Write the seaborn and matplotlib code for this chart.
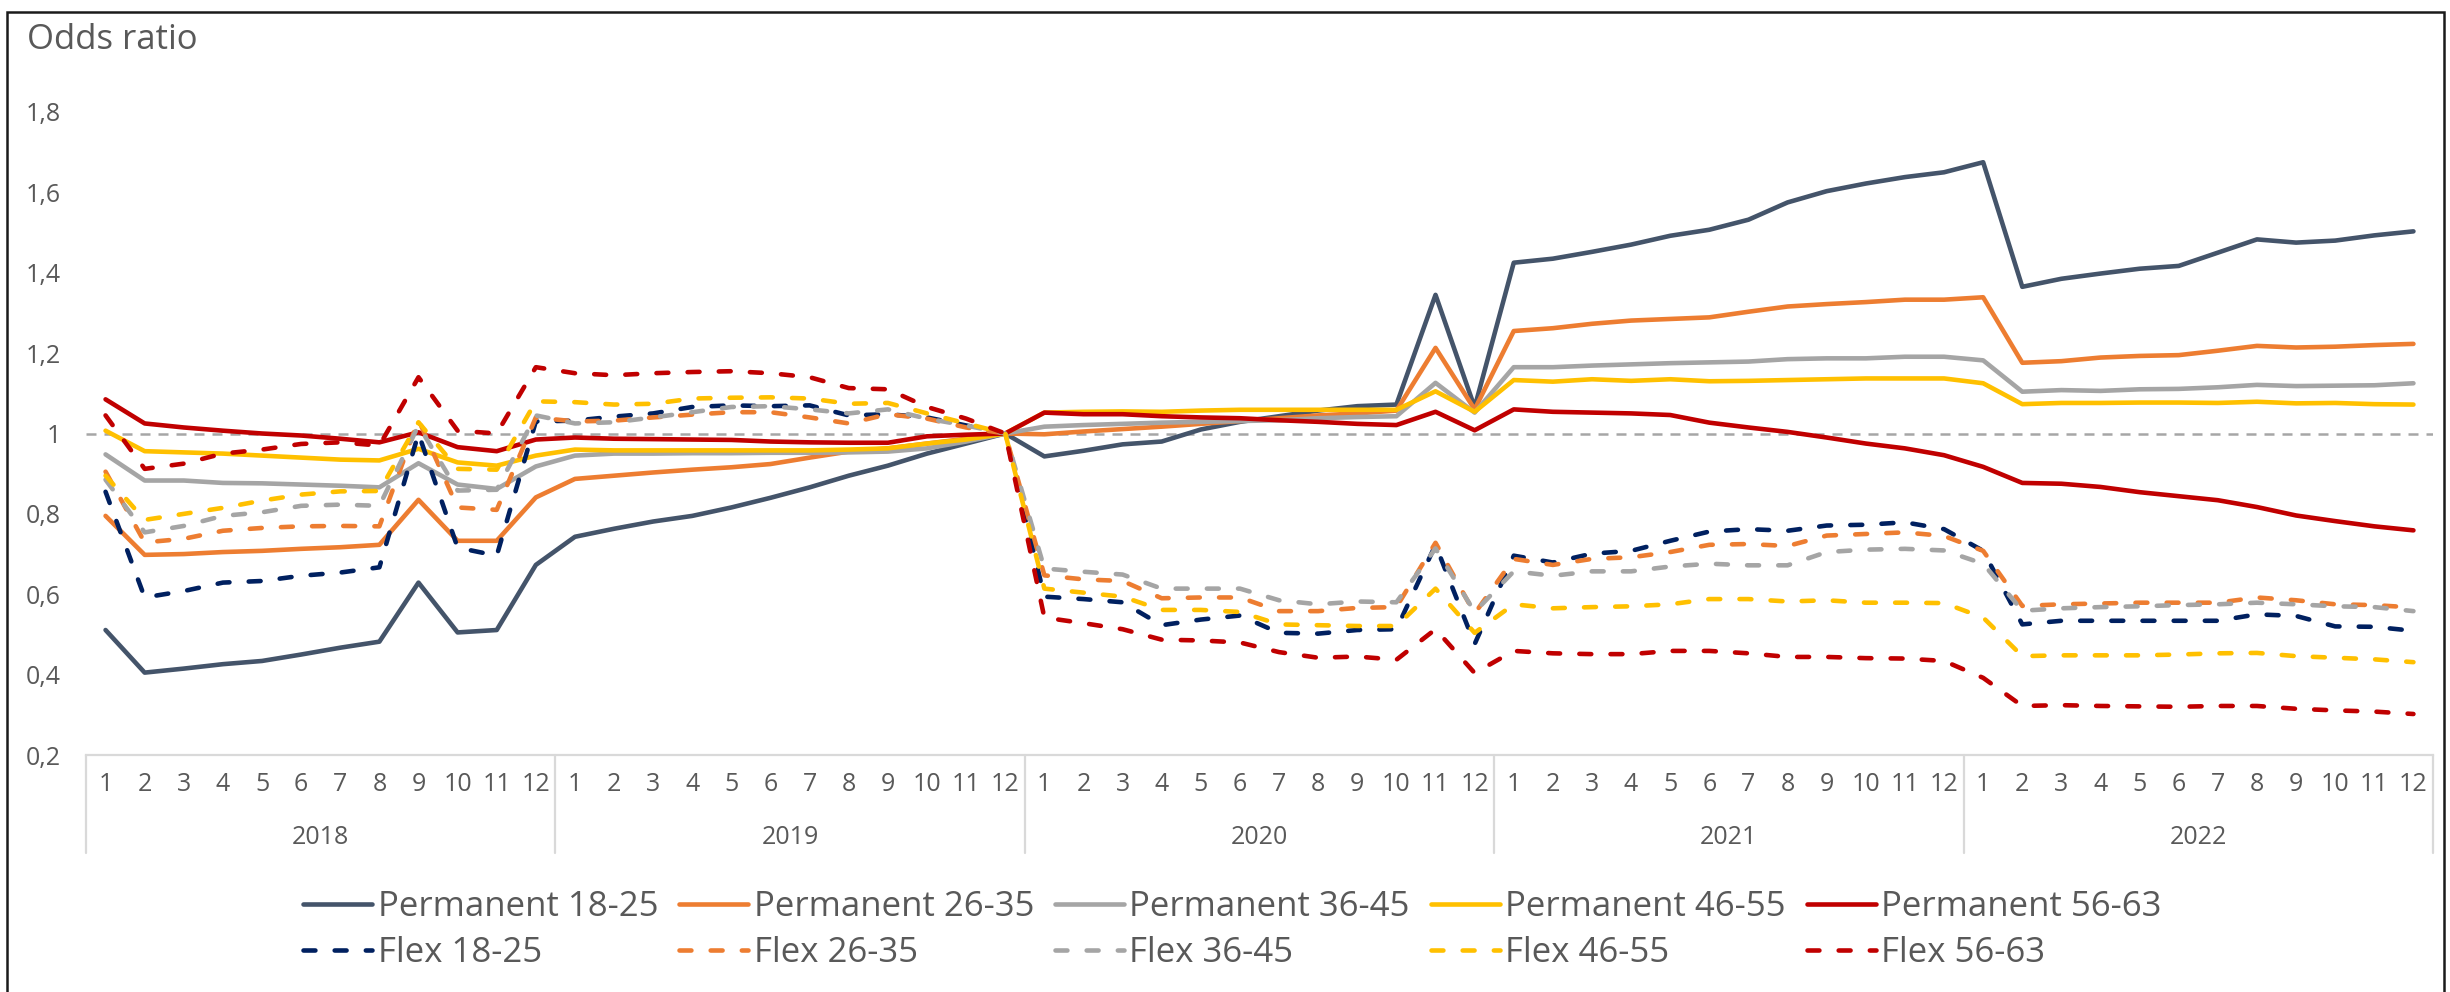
import numpy as np
import pandas as pd
import matplotlib
matplotlib.use("Agg")
import matplotlib.pyplot as plt
import seaborn as sns
from matplotlib.lines import Line2D
from matplotlib.patches import Rectangle

# ---------------- data ----------------
years = ["2018", "2019", "2020", "2021", "2022"]
months = [str(m) for m in range(1, 13)]

perm_18_25 = [0.511, 0.405, 0.415, 0.426, 0.434, 0.450, 0.467, 0.482, 0.629, 0.505, 0.511, 0.673,
              0.743, 0.763, 0.781, 0.795, 0.816, 0.840, 0.866, 0.895, 0.920, 0.950, 0.975, 1.000,
              0.943, 0.957, 0.973, 0.980, 1.010, 1.029, 1.043, 1.057, 1.068, 1.072, 1.345, 1.065,
              1.425, 1.435, 1.452, 1.470, 1.492, 1.507, 1.532, 1.575, 1.603, 1.622, 1.638, 1.650,
              1.675, 1.365, 1.385, 1.398, 1.410, 1.417, 1.450, 1.483, 1.475, 1.480, 1.493, 1.503]
perm_26_35 = [0.795, 0.698, 0.700, 0.705, 0.708, 0.713, 0.717, 0.723, 0.835, 0.733, 0.733, 0.841,
              0.887, 0.895, 0.903, 0.910, 0.916, 0.924, 0.940, 0.955, 0.963, 0.975, 0.987, 1.000,
              0.998, 1.005, 1.011, 1.017, 1.024, 1.031, 1.038, 1.045, 1.050, 1.057, 1.213, 1.060,
              1.255, 1.262, 1.273, 1.281, 1.285, 1.289, 1.303, 1.316, 1.322, 1.327, 1.333, 1.333,
              1.339, 1.176, 1.180, 1.189, 1.193, 1.195, 1.206, 1.218, 1.214, 1.216, 1.220, 1.223]
perm_36_45 = [0.948, 0.883, 0.883, 0.877, 0.876, 0.873, 0.870, 0.866, 0.926, 0.873, 0.862, 0.918,
              0.945, 0.950, 0.950, 0.951, 0.951, 0.952, 0.952, 0.953, 0.955, 0.963, 0.980, 1.000,
              1.017, 1.021, 1.024, 1.027, 1.029, 1.031, 1.033, 1.038, 1.041, 1.043, 1.126, 1.052,
              1.165, 1.165, 1.169, 1.172, 1.175, 1.177, 1.179, 1.185, 1.187, 1.187, 1.191, 1.191,
              1.182, 1.104, 1.108, 1.106, 1.110, 1.111, 1.115, 1.121, 1.118, 1.119, 1.120, 1.125]
perm_46_55 = [1.007, 0.956, 0.953, 0.950, 0.945, 0.940, 0.935, 0.933, 0.962, 0.928, 0.920, 0.945,
              0.960, 0.958, 0.958, 0.958, 0.958, 0.958, 0.958, 0.960, 0.963, 0.975, 0.985, 1.000,
              1.052, 1.054, 1.055, 1.054, 1.057, 1.059, 1.059, 1.059, 1.059, 1.059, 1.105, 1.054,
              1.133, 1.129, 1.135, 1.131, 1.135, 1.130, 1.131, 1.133, 1.135, 1.137, 1.137, 1.137,
              1.125, 1.073, 1.076, 1.076, 1.077, 1.077, 1.076, 1.079, 1.075, 1.076, 1.073, 1.072]
perm_56_63 = [1.085, 1.025, 1.015, 1.007, 1.000, 0.995, 0.987, 0.978, 1.003, 0.966, 0.956, 0.985,
              0.990, 0.987, 0.986, 0.985, 0.984, 0.980, 0.978, 0.977, 0.977, 0.993, 0.997, 1.000,
              1.052, 1.048, 1.048, 1.043, 1.040, 1.038, 1.033, 1.029, 1.024, 1.021, 1.054, 1.008,
              1.060, 1.054, 1.052, 1.050, 1.046, 1.027, 1.015, 1.004, 0.990, 0.975, 0.963, 0.946,
              0.917, 0.877, 0.875, 0.867, 0.854, 0.844, 0.834, 0.817, 0.796, 0.782, 0.769, 0.759]
flex_18_25 = [0.855, 0.592, 0.608, 0.629, 0.633, 0.646, 0.654, 0.667, 1.000, 0.716, 0.696, 1.030,
              1.032, 1.042, 1.050, 1.066, 1.070, 1.068, 1.070, 1.045, 1.048, 1.040, 1.020, 1.000,
              0.594, 0.588, 0.580, 0.523, 0.537, 0.547, 0.504, 0.502, 0.511, 0.513, 0.723, 0.476,
              0.696, 0.679, 0.701, 0.708, 0.733, 0.756, 0.762, 0.758, 0.771, 0.773, 0.779, 0.762,
              0.708, 0.525, 0.534, 0.534, 0.534, 0.534, 0.534, 0.550, 0.546, 0.520, 0.519, 0.509]
flex_26_35 = [0.905, 0.729, 0.738, 0.758, 0.765, 0.769, 0.770, 0.769, 1.034, 0.816, 0.810, 1.040,
              1.030, 1.032, 1.040, 1.047, 1.053, 1.053, 1.040, 1.025, 1.048, 1.037, 1.015, 1.000,
              0.647, 0.637, 0.633, 0.590, 0.592, 0.592, 0.558, 0.558, 0.566, 0.568, 0.728, 0.552,
              0.688, 0.673, 0.688, 0.692, 0.705, 0.723, 0.725, 0.720, 0.746, 0.750, 0.754, 0.745,
              0.708, 0.571, 0.575, 0.577, 0.579, 0.579, 0.579, 0.592, 0.585, 0.575, 0.573, 0.567]
flex_36_45 = [0.885, 0.754, 0.770, 0.795, 0.804, 0.820, 0.823, 0.820, 1.020, 0.858, 0.860, 1.045,
              1.025, 1.028, 1.040, 1.053, 1.066, 1.068, 1.060, 1.050, 1.060, 1.037, 1.020, 1.000,
              0.664, 0.656, 0.649, 0.614, 0.614, 0.614, 0.585, 0.575, 0.582, 0.580, 0.714, 0.556,
              0.657, 0.646, 0.657, 0.657, 0.669, 0.676, 0.672, 0.672, 0.705, 0.711, 0.713, 0.709,
              0.676, 0.559, 0.565, 0.568, 0.570, 0.573, 0.575, 0.579, 0.575, 0.570, 0.568, 0.558]
flex_46_55 = [0.895, 0.785, 0.800, 0.815, 0.833, 0.848, 0.856, 0.857, 1.028, 0.912, 0.910, 1.080,
              1.078, 1.072, 1.074, 1.087, 1.089, 1.090, 1.087, 1.074, 1.076, 1.050, 1.025, 1.000,
              0.614, 0.604, 0.594, 0.561, 0.561, 0.556, 0.525, 0.523, 0.521, 0.521, 0.614, 0.504,
              0.575, 0.565, 0.568, 0.570, 0.575, 0.588, 0.588, 0.582, 0.585, 0.579, 0.579, 0.578,
              0.542, 0.446, 0.448, 0.448, 0.448, 0.450, 0.453, 0.454, 0.446, 0.442, 0.438, 0.431]
flex_56_63 = [1.045, 0.912, 0.925, 0.950, 0.960, 0.974, 0.978, 0.970, 1.140, 1.007, 1.000, 1.165,
              1.150, 1.145, 1.150, 1.153, 1.155, 1.150, 1.140, 1.113, 1.110, 1.066, 1.037, 1.000,
              0.542, 0.528, 0.513, 0.487, 0.485, 0.480, 0.456, 0.442, 0.445, 0.437, 0.513, 0.404,
              0.459, 0.453, 0.451, 0.451, 0.459, 0.459, 0.453, 0.444, 0.444, 0.441, 0.440, 0.434,
              0.392, 0.322, 0.324, 0.322, 0.321, 0.320, 0.322, 0.322, 0.315, 0.311, 0.308, 0.302]

series_names = ["Permanent 18-25", "Permanent 26-35", "Permanent 36-45", "Permanent 46-55", "Permanent 56-63",
                "Flex 18-25", "Flex 26-35", "Flex 36-45", "Flex 46-55", "Flex 56-63"]
series_values = [perm_18_25, perm_26_35, perm_36_45, perm_46_55, perm_56_63,
                 flex_18_25, flex_26_35, flex_36_45, flex_46_55, flex_56_63]
series_colors = ["#44546A", "#ED7D31", "#A5A5A5", "#FFC000", "#C00000",
                 "#002060", "#ED7D31", "#A5A5A5", "#FFC000", "#C00000"]
series_dashed = [False] * 5 + [True] * 5

y_ticks = [0.2, 0.4, 0.6, 0.8, 1.0, 1.2, 1.4, 1.6, 1.8]
y_ticklabels = ["0,2", "0,4", "0,6", "0,8", "1", "1,2", "1,4", "1,6", "1,8"]

# ---------------- figure ----------------
sns.set_theme(style="white")
plt.rcParams["font.family"] = ["Open Sans", "DejaVu Sans"]
TXT = "#595959"

W, H = 2450, 992
fig = plt.figure(figsize=(W / 100, H / 100), dpi=100)
ax_l, ax_r, ax_t, ax_b = 86, 2433, 112, 755
ax = fig.add_axes([ax_l / W, (H - ax_b) / H, (ax_r - ax_l) / W, (ax_b - ax_t) / H])

n = len(months) * len(years)
idx = np.arange(n)

ax.axhline(1.0, color="#A6A6A6", lw=1.8, dashes=(4, 3.2), zorder=1)

handles = []
for k, (name, vals, col, dsh) in enumerate(zip(series_names, series_values, series_colors, series_dashed)):
    df = pd.DataFrame({"i": idx, "v": vals})
    sns.lineplot(data=df, x="i", y="v", ax=ax, color=col, linewidth=3.3, sort=False,
                 legend=False, zorder=2 + k)
    line = ax.get_lines()[-1]
    line.set_solid_joinstyle("round")
    if dsh:
        line.set_dashes((2.6, 4.2))
        line.set_dash_capstyle("round")
        line.set_dash_joinstyle("round")
    h = Line2D([], [], color=col, lw=3.3)
    if dsh:
        h.set_dashes((2.6, 4.2))
        h.set_dash_capstyle("round")
    handles.append(h)

ax.set_xlim(-0.5, n - 0.5)
ax.set_ylim(0.2, 1.8)
ax.set_xlabel("")
ax.set_ylabel("")

ax.set_yticks(y_ticks)
ax.set_yticklabels(y_ticklabels)
ax.set_xticks(idx)
ax.set_xticklabels(months * len(years))
ax.tick_params(axis="y", length=0, pad=18, labelsize=18, colors=TXT)
ax.tick_params(axis="x", length=0, pad=12, labelsize=18, colors=TXT)
ax.grid(False)
for s in ["top", "right", "left"]:
    ax.spines[s].set_visible(False)
ax.spines["bottom"].set_color("#D9D9D9")
ax.spines["bottom"].set_linewidth(1.6)

# multi-level category axis: year separators and year labels
axh = ax_b - ax_t
trans = ax.get_xaxis_transform()
sep_bottom = -(853 - ax_b) / axh
for b in np.arange(-0.5, n, 12):
    ax.plot([b, b], [0, sep_bottom], transform=trans, clip_on=False, color="#D9D9D9", lw=1.6)
for k, yr in enumerate(years):
    ax.text(12 * k + 5.5, -(838 - ax_b) / axh, yr, transform=trans, ha="center", va="center",
            fontsize=18, color=TXT)

fig.text(27 / W, 1 - 40 / H, "Odds ratio", ha="left", va="center", fontsize=25, color=TXT)

# legend: row 1 permanent, row 2 flex
order = []
for c in range(5):
    order += [c, c + 5]
leg = fig.legend([handles[i] for i in order], [series_names[i] for i in order], ncol=5,
                 loc="center", bbox_to_anchor=(0.503, 1 - 930 / H), frameon=False, fontsize=25,
                 handlelength=2.0, handletextpad=0.15, columnspacing=0.6, labelspacing=0.33,
                 labelcolor=TXT)

# outer frame
fig.patches.append(Rectangle((7 / W, -0.05), (2444 - 7) / W, 0.05 + (H - 12) / H,
                             transform=fig.transFigure, fill=False, edgecolor="#1a1a1a", lw=1.8))

fig.savefig("out.png", dpi=100)
